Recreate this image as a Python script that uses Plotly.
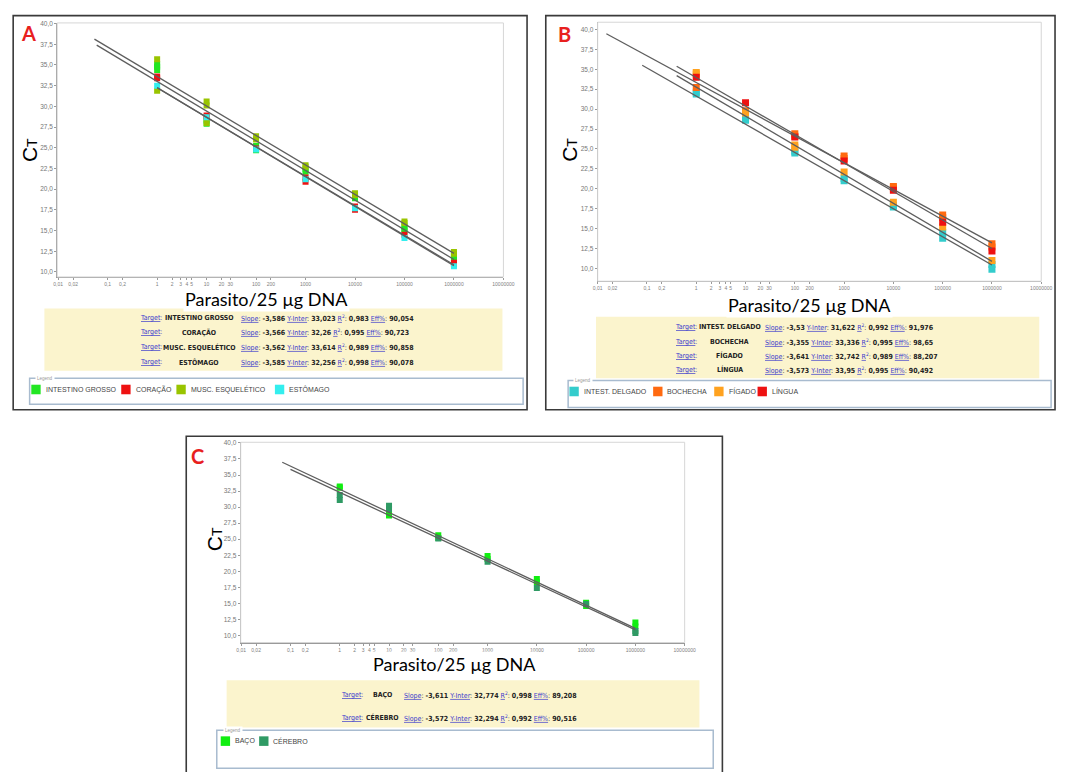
import numpy as np
import plotly.graph_objects as go

W, H = 1068, 772

# ---------------------------------------------------------------- data
# dilution points (parasites / 25 ug DNA)
dilutions = [1, 10, 100, 1000, 10000, 100000, 1000000]

x_tickvals = [0.01, 0.02, 0.1, 0.2, 1, 2, 3, 4, 5, 10, 20, 30, 100, 200,
              1000, 10000, 100000, 1000000, 10000000]
x_ticktext = ["0,01", "0,02", "0,1", "0,2", "1", "2", "3", "4", "5", "10", "20", "30",
              "100", "200", "1000", "10000", "100000", "1000000", "10000000"]
y_tickvals = [10, 12.5, 15, 17.5, 20, 22.5, 25, 27.5, 30, 32.5, 35, 37.5, 40]

# Panel A
a_targets = ["INTESTINO GROSSO", "CORAÇÃO", "MUSC. ESQUELÉTICO", "ESTÔMAGO"]
a_slope = [-3.586, -3.566, -3.562, -3.585]
a_inter = [33.023, 32.26, 33.614, 32.256]
a_r2 = [0.983, 0.995, 0.989, 0.998]
a_eff = [90.054, 90.723, 90.858, 90.078]
a_fit_from = [0.06, 1, 0.054, 1]
a_ct_intestino = [[35.1, 34.4, 34.8], [28.3, 27.9], [25.2, 24.7, 24.9], [22.4, 22.1],
                  [19.1, 18.9], [15.5, 15.2, 14.9], [11.9, 11.7]]
a_ct_coracao = [[33.6, 33.4], [28.9, 28.7], [24.9], [21.4, 20.9], [17.9, 17.5],
                [14.5], [11.1, 10.9]]
a_ct_musc = [[35.7, 31.9], [30.6, 30.1, 28.0], [26.4, 26.0], [22.9, 22.7],
             [19.5, 19.3], [16.1, 15.9], [12.4, 12.2]]
a_ct_estomago = [[32.5], [28.7], [24.8], [21.2], [17.7], [14.1], [10.7]]

# Panel B
b_targets = ["INTEST. DELGADO", "BOCHECHA", "FÍGADO", "LÍNGUA"]
b_slope = [-3.53, -3.355, -3.641, -3.573]
b_inter = [31.622, 33.336, 32.742, 33.95]
b_r2 = [0.992, 0.995, 0.989, 0.995]
b_eff = [91.976, 98.65, 88.207, 90.492]
b_fit_from = [0.08, 0.015, 0.4, 0.4]
b_ct_delgado = [[32.1, 31.9], [28.8, 28.6], [24.7, 24.5], [21.3, 21.0], [17.9, 17.7],
                [14.5, 13.8], [10.5, 9.9]]
b_ct_bochecha = [[32.7], [29.8], [26.9, 26.6], [24.1, 23.8], [20.3, 20.1],
                 [16.7, 16.4], [13.1, 12.7]]
b_ct_figado = [[34.6, 34.4], [29.5], [25.5, 25.2], [22.1], [18.3], [15.2], [11.0]]
b_ct_lingua = [[34.0], [30.8], [26.5], [23.5], [19.8], [15.8], [12.2]]

# Panel C
c_targets = ["BAÇO", "CÉREBRO"]
c_slope = [-3.611, -3.572]
c_inter = [32.774, 32.294]
c_r2 = [0.998, 0.992]
c_eff = [89.208, 90.516]
c_fit_from = [0.068, 0.1]
c_ct_baco = [[33.2, 33.0], [28.9, 28.7], [25.6, 25.2], [22.4, 21.9], [18.8, 18.3],
             [15.1, 14.6], [12.0, 11.4]]
c_ct_cerebro = [[31.9, 31.1], [30.2, 29.7], [25.1], [21.5], [17.4], [14.9], [10.7, 10.4]]

# ---------------------------------------------------------------- styles
a_colors = ["#22e622", "#ee1111", "#99c400", "#33eeee"]
b_colors = ["#33cccc", "#ff6a10", "#ffa21f", "#ee1111"]
c_colors = ["#11ee11", "#2f9a64"]
LINE_COLOR = "#5e5e5e"
LINK_BLUE = "#3a3acc"
TABLE_FILL = "#fbf4cd"
LEGEND_EDGE = "#a8bbcf"
NARROW = "Liberation Sans Narrow, DejaVu Sans Condensed, Arial Narrow, sans-serif"
ARIAL = "Liberation Sans, Arial, sans-serif"
TITLE_FONT = "Lato, Open Sans, sans-serif"


def px(x):
    return x / W


def py(y):
    return 1 - y / H


def fmt(v):
    return str(v).replace(".", ",")


fig = go.Figure()
shapes = []
annotations = []


def flatten(cts):
    xs = [d for d, reps in zip(dilutions, cts) for _ in reps]
    ys = [v for reps in cts for v in reps]
    return xs, ys


def add_panel(n, box, xr, yr, series, colors, slopes, inters, fit_from, msize):
    xa = "x" if n == 1 else f"x{n}"
    ya = "y" if n == 1 else f"y{n}"
    x0, y0, x1, y1 = box
    fig.update_layout(**{
        ("xaxis" if n == 1 else f"xaxis{n}"): dict(
            domain=[px(x0), px(x1)], anchor=ya, type="log", range=xr,
            tickvals=x_tickvals, ticktext=x_ticktext, tickangle=0,
            showgrid=False, zeroline=False,
            showline=True, linecolor="#9a9a9a", linewidth=1, ticks="outside",
            ticklen=2, tickcolor="#9a9a9a",
            tickfont=dict(size=5, color="#808080", family=ARIAL)),
        ("yaxis" if n == 1 else f"yaxis{n}"): dict(
            domain=[py(y1), py(y0)], anchor=xa, range=yr,
            tickvals=y_tickvals, ticktext=[f"{v:.1f}".replace(".", ",") for v in y_tickvals],
            showgrid=False, zeroline=False, showline=True, linecolor="#9a9a9a",
            linewidth=1, ticks="outside", ticklen=2, tickcolor="#9a9a9a",
            tickfont=dict(size=6.5, color="#777", family=ARIAL)),
    })
    # light frame around plotting area
    shapes.append(dict(type="rect", xref=f"{xa} domain", yref=f"{ya} domain",
                       x0=0, x1=1, y0=0, y1=1, line=dict(color="#d6d6d6", width=1)))
    for cts, col in zip(series, colors):
        xs, ys = flatten(cts)
        fig.add_trace(go.Scatter(x=xs, y=ys, mode="markers", xaxis=xa, yaxis=ya,
                                 marker=dict(symbol="square", size=msize, color=col,
                                             line=dict(width=0)),
                                 showlegend=False, hoverinfo="x+y"))
    for s, b, f in zip(slopes, inters, fit_from):
        lx = np.array([f, 1e6])
        fig.add_trace(go.Scatter(x=lx, y=b + s * np.log10(lx), mode="lines",
                                 xaxis=xa, yaxis=ya, showlegend=False,
                                 line=dict(color=LINE_COLOR, width=1.3), hoverinfo="skip"))


def text(x, y, t, size, color="#000", family=ARIAL, xanchor="center", bg=None, angle=0):
    a = dict(x=px(x), y=py(y), xref="paper", yref="paper", text=t, showarrow=False,
             xanchor=xanchor, yanchor="middle", textangle=angle,
             font=dict(size=size, color=color, family=family))
    if bg:
        a["bgcolor"] = bg
    annotations.append(a)


def table(rows_y, x_target, x_name, x_rest, names, slopes, inters, r2s, effs):
    link = lambda w: f"<span style='color:{LINK_BLUE}'><u>{w}</u></span>"
    for y, nm, s, b, r, e in zip(rows_y, names, slopes, inters, r2s, effs):
        text(x_target, y, "<u>Target</u>:", 7, LINK_BLUE, NARROW, "left")
        text(x_name, y, f"<b>{nm}</b>", 6.9, "#222", NARROW, "center")
        rest = (f"{link('Slope')}: <b>{fmt(s)}</b> {link('Y-Inter')}: <b>{fmt(b)}</b> "
                f"<span style='color:{LINK_BLUE}'><u>R</u><sup>2</sup></span>: <b>{fmt(r)}</b> "
                f"{link('Eff%')}: <b>{fmt(e)}</b>")
        text(x_rest, y, rest, 7, "#222", NARROW, "left")


def legend_box(box, label_x, items_y, swatch_x, names, colors):
    x0, y0, x1, y1 = box
    shapes.append(dict(type="rect", xref="paper", yref="paper", x0=px(x0), x1=px(x1),
                       y0=py(y1), y1=py(y0), line=dict(color=LEGEND_EDGE, width=1.5)))
    text(label_x, y0, "Legend", 4.5, "#999", ARIAL, "left", bg="white")
    for sx, nm, col in zip(swatch_x, names, colors):
        shapes.append(dict(type="rect", xref="paper", yref="paper", x0=px(sx), x1=px(sx + 9.5),
                           y0=py(items_y + 4.8), y1=py(items_y - 4.8),
                           fillcolor=col, line=dict(width=0)))
        text(sx + 12.5, items_y, nm, 7, "#444", ARIAL, "left")


def frame(box):
    x0, y0, x1, y1 = box
    shapes.append(dict(type="rect", xref="paper", yref="paper", x0=px(x0), x1=px(x1),
                       y0=py(y1), y1=py(y0), line=dict(color="#3a3a3a", width=1.6)))


def filled(box, color):
    x0, y0, x1, y1 = box
    shapes.append(dict(type="rect", xref="paper", yref="paper", x0=px(x0), x1=px(x1),
                       y0=py(y1), y1=py(y0), fillcolor=color, line=dict(width=0), layer="below"))


# ---------------------------------------------------------------- panels
add_panel(1, (53, 20, 506, 275), [-2.02, 7.0], [9.4, 40.08],
          [a_ct_intestino, a_ct_coracao, a_ct_musc, a_ct_estomago], a_colors,
          a_slope, a_inter, a_fit_from, 6)
add_panel(2, (601.7, 19.3, 1052, 279.3), [-2.0, 7.0], [8.4, 40.9],
          [b_ct_delgado, b_ct_bochecha, b_ct_figado, b_ct_lingua], b_colors,
          b_slope, b_inter, b_fit_from, 7)
add_panel(3, (239.3, 441, 690, 642), [-2.01, 7.0], [8.9, 40.1],
          [c_ct_baco, c_ct_cerebro], c_colors,
          c_slope, c_inter, c_fit_from, 6)

# outer frames
frame((8.3, 12.7, 530, 408.3))
frame((549, 12.7, 1066, 408.3))
frame((184, 435, 728.3, 790))

# panel letters
text(24, 30, "<b>A</b>", 20, "#e8201e", TITLE_FONT)
text(568.3, 30.7, "<b>B</b>", 20, "#e8201e", TITLE_FONT)
text(195, 455, "<b>C</b>", 20, "#e8201e", TITLE_FONT)

# y-axis titles
ct_title = "C<span style='font-size:14px'>T</span>"
text(25, 148, ct_title, 21, "#000", ARIAL, angle=-90)
text(573, 147, ct_title, 21, "#000", ARIAL, angle=-90)
text(213.5, 538, ct_title, 21, "#000", ARIAL, angle=-90)

# x-axis titles
xt = "Parasito/25 µg DNA"
text(265, 296.7, xt, 18, "#000", TITLE_FONT, bg="white")
text(816.7, 303.3, xt, 18, "#000", TITLE_FONT, bg="white")
text(456.7, 663.3, xt, 18, "#000", TITLE_FONT, bg="white")

# regression summary tables
filled((40, 306.7, 505, 369.3), TABLE_FILL)
filled((600, 315, 1050, 376.7), TABLE_FILL)
filled((225, 680, 705, 727.3), TABLE_FILL)
table([316.7, 330.7, 345.7, 360.7], 135, 197, 238,
      a_targets, a_slope, a_inter, a_r2, a_eff)
table([325.7, 340, 354, 368.3], 678, 736, 770,
      b_targets, b_slope, b_inter, b_r2, b_eff)
table([695, 717.3], 339, 383, 402.7,
      c_targets, c_slope, c_inter, c_r2, c_eff)

# legends
legend_box((25, 376.7, 526, 402.7), 30, 388, [26.7, 118, 174, 274], a_targets, a_colors)
legend_box((571.7, 379, 1062, 406), 577, 390, [573, 658, 720, 764], b_targets, b_colors)
legend_box((215, 730, 719, 768.3), 221, 741, [219, 258], c_targets, c_colors)

fig.update_layout(width=W, height=H, margin=dict(l=0, r=0, t=0, b=0),
                  paper_bgcolor="white", plot_bgcolor="white",
                  shapes=shapes, annotations=annotations, showlegend=False)

fig.write_html("out.html")
